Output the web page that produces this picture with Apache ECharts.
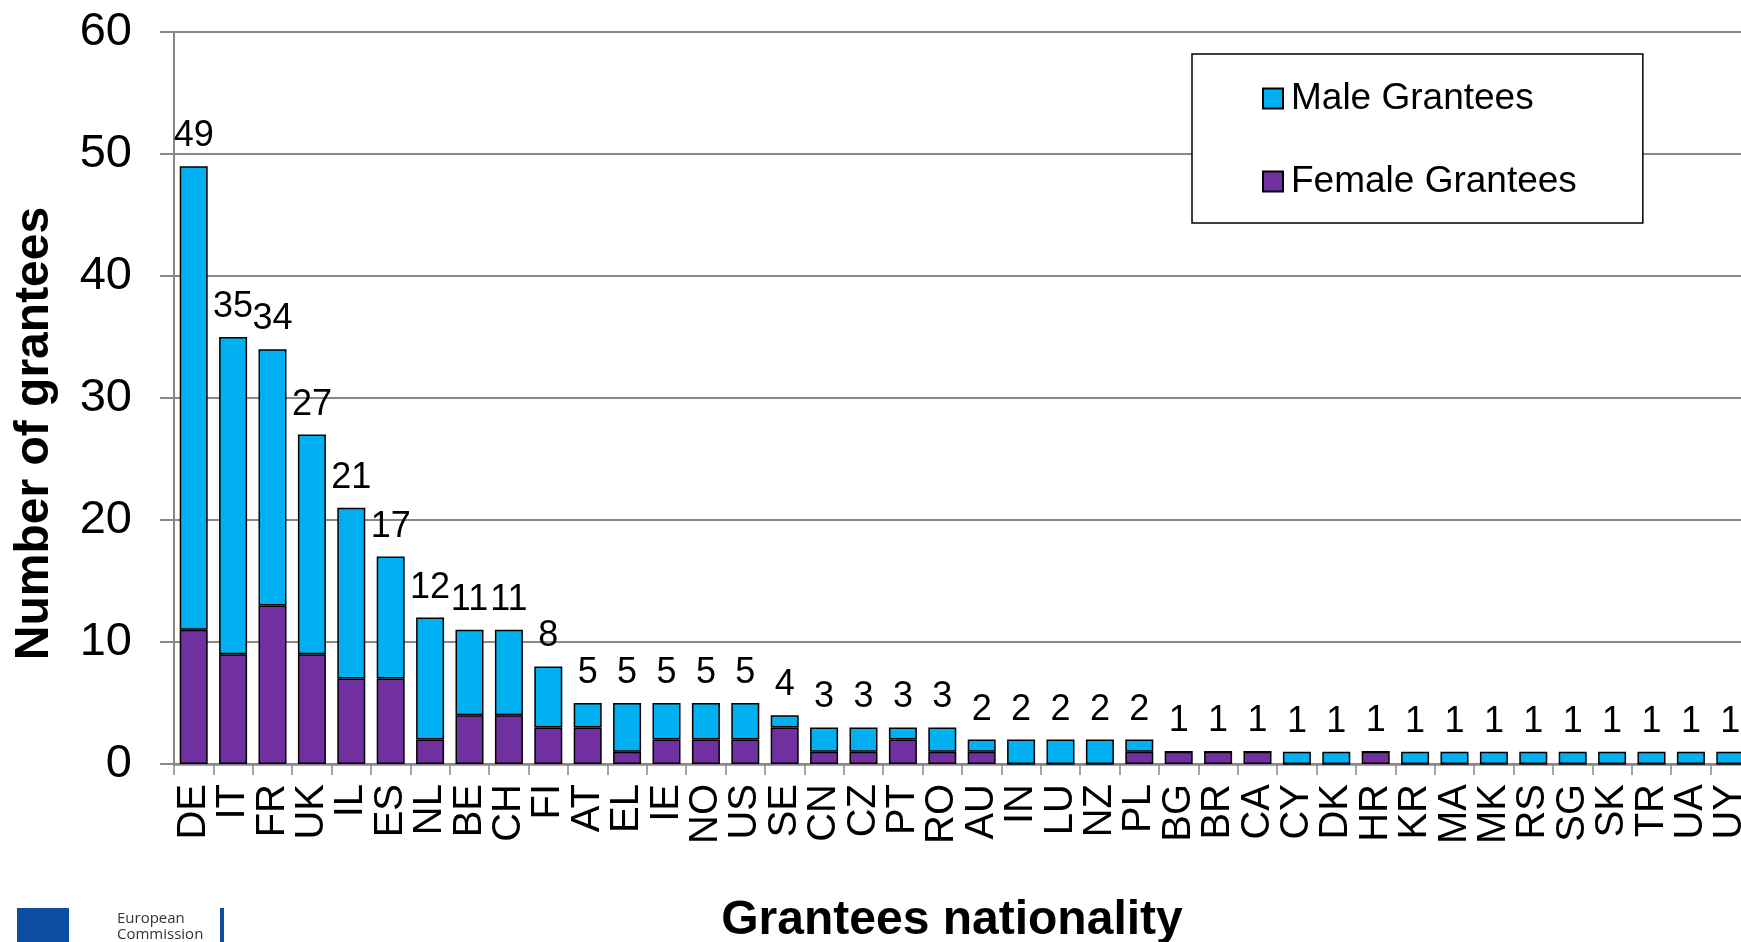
<!DOCTYPE html>
<html>
<head>
<meta charset="utf-8">
<script src="https://cdn.jsdelivr.net/npm/echarts@6/dist/echarts.min.js"></script>
<style>
html,body{margin:0;padding:0;background:#fff;}
#chart{width:1741px;height:942px;}
</style>
</head>
<body>
<div id="chart"></div>
<script>
const categories = ['DE','IT','FR','UK','IL','ES','NL','BE','CH','FI','AT','EL','IE','NO','US','SE','CN','CZ','PT','RO','AU','IN','LU','NZ','PL','BG','BR','CA','CY','DK','HR','KR','MA','MK','RS','SG','SK','TR','UA','UY'];
const femaleGrantees = [11,9,13,9,7,7,2,4,4,3,3,1,2,2,2,3,1,1,2,1,1,0,0,0,1,1,1,1,0,0,1,0,0,0,0,0,0,0,0,0];
const maleGrantees   = [38,26,21,18,14,10,10,7,7,5,2,4,3,3,3,1,2,2,1,2,1,2,2,2,1,0,0,0,1,1,0,1,1,1,1,1,1,1,1,1];
const yTicks = {min: 0, max: 60, interval: 10};

const FONT = "'Liberation Sans', Arial, sans-serif";
const totals = categories.map((c, i) => maleGrantees[i] + femaleGrantees[i]);

const chart = echarts.init(document.getElementById('chart'), null, {renderer: 'canvas'});
chart.setOption({
  backgroundColor: '#ffffff',
  animation: false,
  textStyle: {fontFamily: FONT},
  grid: {left: 174, right: -9, top: 32, bottom: 178, containLabel: false, outerBoundsMode: 'none'},
  legend: {
    data: ['Male Grantees', 'Female Grantees'],
    orient: 'vertical',
    left: 1192, top: 54,
    itemWidth: 20, itemHeight: 20, itemGap: 46,
    padding: [26, 66, 23, 70],
    backgroundColor: '#ffffff',
    borderColor: '#000000', borderWidth: 1.5,
    icon: 'rect',
    textStyle: {fontSize: 37, color: '#000', fontFamily: FONT, padding: [0, 0, 0, 3]}
  },
  xAxis: {
    type: 'category',
    data: categories,
    name: 'Grantees nationality',
    nameLocation: 'middle',
    nameGap: 133,
    nameTextStyle: {fontSize: 48, fontWeight: 'bold', color: '#000', fontFamily: FONT, padding: [0, 20, 0, 0]},
    axisLine: {lineStyle: {color: '#888', width: 2.5}},
    axisTick: {show: true, length: 11, lineStyle: {color: '#888', width: 1.5}},
    axisLabel: {rotate: 90, fontSize: 40, color: '#000', margin: 20, interval: 0, fontFamily: FONT},
    splitLine: {show: false}
  },
  yAxis: {
    type: 'value',
    min: yTicks.min, max: yTicks.max, interval: yTicks.interval,
    name: 'Number of grantees',
    nameLocation: 'middle',
    nameGap: 115,
    nameTextStyle: {fontSize: 48, fontWeight: 'bold', color: '#000', fontFamily: FONT, padding: [0, 71, 0, 0]},
    axisLine: {show: true, lineStyle: {color: '#888', width: 2}},
    axisTick: {show: true, length: 14, lineStyle: {color: '#888', width: 2}},
    axisLabel: {fontSize: 47, color: '#000', margin: 42, fontFamily: FONT},
    splitLine: {show: true, lineStyle: {color: '#888', width: 2}}
  },
  series: [
    {
      name: 'Female Grantees',
      type: 'bar',
      stack: 'total',
      data: femaleGrantees,
      barWidth: 28,
      itemStyle: {color: '#7030A0', borderColor: '#000', borderWidth: 1.5}
    },
    {
      name: 'Male Grantees',
      type: 'bar',
      stack: 'total',
      data: maleGrantees,
      barWidth: 28,
      itemStyle: {color: '#00B0F0', borderColor: '#000', borderWidth: 1.5},
      label: {
        show: true,
        position: 'top',
        distance: 12,
        fontSize: 36,
        color: '#000',
        fontFamily: FONT,
        formatter: p => String(totals[p.dataIndex])
      }
    }
  ],
  graphic: [
    {type: 'rect', left: 17, top: 908, shape: {width: 52, height: 40}, style: {fill: '#0b4ea2'}},
    {type: 'rect', left: 220, top: 908, shape: {width: 4, height: 40}, style: {fill: '#0b4ea2'}},
    {type: 'text', left: 117, top: 911, style: {text: 'European\nCommission', fill: '#333', font: "15px 'Open Sans', sans-serif", lineHeight: 16}}
  ]
});
</script>
</body>
</html>
